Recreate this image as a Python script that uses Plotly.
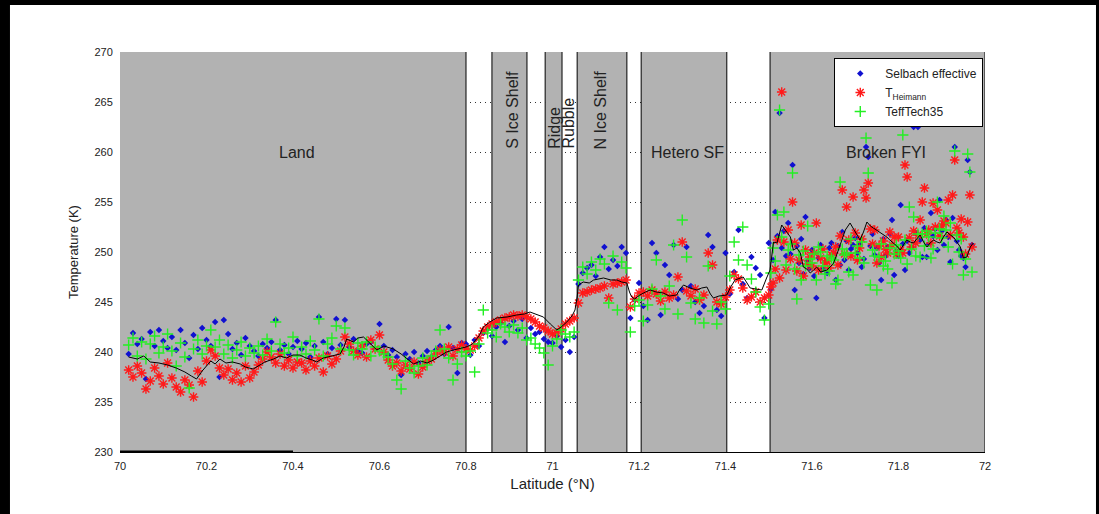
import plotly.graph_objects as go

# ---------------- data ----------------
LAT = [
    # land 70.02-70.79
    70.02, 70.03, 70.04, 70.05, 70.06, 70.07, 70.08, 70.09, 70.10, 70.11,
    70.12, 70.13, 70.14, 70.15, 70.16, 70.17, 70.18, 70.19, 70.20, 70.21,
    70.22, 70.23, 70.24, 70.25, 70.26, 70.27, 70.28, 70.29, 70.30, 70.31,
    70.32, 70.33, 70.34, 70.35, 70.36, 70.37, 70.38, 70.39, 70.40, 70.41,
    70.42, 70.43, 70.44, 70.45, 70.46, 70.47, 70.48, 70.49, 70.50, 70.51,
    70.52, 70.53, 70.54, 70.55, 70.56, 70.57, 70.58, 70.59, 70.60, 70.61,
    70.62, 70.63, 70.64, 70.65, 70.66, 70.67, 70.68, 70.69, 70.70, 70.71,
    70.72, 70.73, 70.74, 70.75, 70.76, 70.77, 70.78, 70.79,
    # ice shelf zone 70.80-71.05
    70.80, 70.81, 70.82, 70.83, 70.84, 70.85, 70.86, 70.87, 70.88, 70.89,
    70.90, 70.91, 70.92, 70.93, 70.94, 70.95, 70.96, 70.97, 70.98, 70.99,
    71.00, 71.01, 71.02, 71.03, 71.04, 71.05,
    # 71.06-71.49
    71.06, 71.07, 71.08, 71.09, 71.10, 71.11, 71.12, 71.13, 71.14, 71.15,
    71.16, 71.17, 71.18, 71.19, 71.20, 71.21, 71.22, 71.23, 71.24, 71.25,
    71.26, 71.27, 71.28, 71.29, 71.30, 71.31, 71.32, 71.33, 71.34, 71.35,
    71.36, 71.37, 71.38, 71.39, 71.40, 71.41, 71.42, 71.43, 71.44, 71.45,
    71.46, 71.47, 71.48, 71.49,
    # broken FYI 71.500-71.970
    71.500, 71.505, 71.510, 71.515, 71.520, 71.525, 71.530, 71.535, 71.540, 71.545,
    71.550, 71.555, 71.560, 71.565, 71.570, 71.575, 71.580, 71.585, 71.590, 71.595,
    71.600, 71.605, 71.610, 71.615, 71.620, 71.625, 71.630, 71.635, 71.640, 71.645,
    71.650, 71.655, 71.660, 71.665, 71.670, 71.675, 71.680, 71.685, 71.690, 71.695,
    71.700, 71.705, 71.710, 71.715, 71.720, 71.725, 71.730, 71.735, 71.740, 71.745,
    71.750, 71.755, 71.760, 71.765, 71.770, 71.775, 71.780, 71.785, 71.790, 71.795,
    71.800, 71.805, 71.810, 71.815, 71.820, 71.825, 71.830, 71.835, 71.840, 71.845,
    71.850, 71.855, 71.860, 71.865, 71.870, 71.875, 71.880, 71.885, 71.890, 71.895,
    71.900, 71.905, 71.910, 71.915, 71.920, 71.925, 71.930, 71.935, 71.940, 71.945,
    71.950, 71.955, 71.960, 71.965, 71.970,
]

SELBACH = [
    239.8, 241.9, 240.8, 241.3, 237.3, 242.0, 240.6, 242.2, 241.1, 240.4,
    241.5, 240.2, 242.2, 240.9, 239.4, 241.7, 240.3, 242.4, 241.2, 240.6,
    243.0, 237.5, 243.2, 241.8, 240.3, 240.9, 239.7, 241.4, 240.6, 240.1,
    239.6, 240.8, 240.4, 241.0, 243.2, 240.2, 240.7, 239.8, 240.5, 241.1,
    240.3, 240.9, 239.5, 240.6, 243.5, 241.0, 239.8, 240.4, 243.3, 240.7,
    243.2, 240.5, 241.3, 240.1, 239.9, 240.8, 241.0, 240.3, 242.8, 240.6,
    239.7, 240.2, 239.5, 237.7, 239.8, 239.3, 240.0, 238.9, 239.6, 240.1,
    239.5, 240.2, 240.6, 239.8, 242.5, 240.4, 237.9, 240.9,
    240.8, 239.7, 241.2, 240.6, 241.9, 242.3, 241.6, 242.5, 242.9, 241.0,
    242.6, 243.1, 242.2, 243.3, 241.4, 242.4, 241.8, 242.0, 241.3, 241.0,
    240.9, 241.6, 240.5, 241.2, 240.0, 241.5,
    246.8, 247.9, 248.4, 248.7, 247.6, 249.5, 250.5, 248.3, 249.2, 248.6,
    250.5, 249.9, 243.4, 245.2, 246.9, 244.6, 243.2, 250.9, 249.9, 243.7,
    248.7, 247.7, 250.7, 245.3, 246.2, 250.5, 246.6, 245.0, 243.9, 244.6,
    251.7, 250.5, 244.2, 243.6, 249.9, 245.8, 248.0, 252.2, 246.8, 245.4,
    249.5, 248.4, 247.7, 243.4,
    250.9, 246.3, 249.2, 254.0, 251.6, 263.9, 250.4, 252.1, 249.6, 252.9,
    249.8, 258.7, 246.2, 250.6, 248.9, 251.3, 247.8, 253.5, 249.1, 248.4,
    250.2, 247.6, 245.4, 249.4, 250.7, 248.3, 249.0, 247.9, 250.4, 250.9,
    249.9, 247.2, 250.6, 248.7, 252.0, 249.2, 251.1, 248.2, 250.3, 250.7,
    251.4, 249.9, 250.8, 248.5, 249.3, 260.5, 259.5, 250.6, 251.8, 249.7,
    250.4, 248.9, 247.2, 251.3, 249.6, 250.5, 251.8, 253.2, 247.7, 250.1,
    249.6, 254.7, 250.8, 248.2, 251.1, 249.9, 250.5, 262.5, 251.9, 262.5,
    251.2, 249.5, 252.4, 249.5, 250.8, 253.9, 251.6, 252.3, 250.2, 255.2,
    252.1, 250.7, 253.2, 251.5, 249.0, 253.4, 260.5, 251.1, 250.2, 249.6,
    249.4, 248.5, 259.2, 258.0, 250.7,
]

HEIMANN = [
    238.2, 237.5, 238.6, 237.9, 236.3, 237.1, 238.4, 237.6, 236.8, 238.9,
    237.4, 236.5, 236.0, 237.2, 236.7, 235.5, 238.1, 237.0, 239.1, 240.2,
    239.6, 238.4, 237.7, 238.3, 237.2, 237.9, 237.0, 238.6, 237.4, 238.0,
    238.7, 239.3, 240.0, 239.5, 238.9, 239.8, 238.6, 239.2, 238.4, 239.0,
    238.9, 238.2, 239.1, 238.6, 239.4, 238.0, 239.6, 238.8, 239.3, 240.1,
    241.5, 240.8, 240.1, 239.7, 240.6, 239.5, 241.2, 240.3, 241.7, 240.0,
    239.2, 238.6, 238.9, 238.1, 238.7, 238.3, 239.0, 237.8, 238.5, 239.1,
    239.3, 239.8, 240.2, 240.0, 240.5, 239.6, 240.3, 240.7,
    240.3, 240.2, 240.6, 241.4, 242.1, 242.5, 242.8, 243.0, 243.2, 243.4,
    243.5, 243.7, 243.6, 243.7, 243.5, 243.3, 243.0, 242.6, 242.4, 242.1,
    241.8, 241.9, 242.3, 242.8, 243.1, 243.4,
    244.9, 245.9, 246.0, 246.2, 246.3, 246.4, 246.6, 245.4, 246.8, 246.9,
    247.0, 247.2, 244.5, 245.3, 245.9, 246.0, 245.6, 246.2, 245.8, 245.1,
    246.0, 245.4, 245.7, 247.5, 251.0, 246.1, 245.6, 246.3, 245.2, 245.7,
    249.9, 248.7, 245.0, 244.8, 245.5, 246.2, 247.7, 247.3, 246.4, 245.2,
    245.5, 246.0, 245.0, 245.4,
    245.7, 246.5, 246.9, 248.3, 251.2, 247.4, 266.0, 251.0, 248.2, 252.2,
    249.3, 255.0, 250.9, 248.1, 249.2, 252.7, 247.6, 250.2, 248.8, 249.5,
    248.6, 249.9, 252.9, 248.2, 249.4, 250.3, 248.9, 249.1, 248.4, 249.7,
    249.9, 250.5, 248.7, 251.6, 256.2, 249.8, 254.5, 251.2, 249.6, 255.5,
    251.9, 249.2, 250.4, 251.3, 256.2, 255.4, 256.9, 252.3, 250.8, 252.2,
    248.9, 250.6, 249.5, 251.1, 250.3, 249.9, 252.0, 250.7, 251.5, 249.8,
    251.5, 250.2, 249.9, 258.7, 257.5, 251.4, 250.5, 252.1, 250.9, 251.7,
    253.2, 255.0, 256.4, 251.8, 252.2, 250.9, 254.9, 252.5, 254.2, 251.6,
    252.6, 253.1, 252.9, 255.2, 251.7, 255.7, 259.2, 252.4, 251.9, 253.3,
    251.5, 249.8, 253.0, 255.7, 250.5,
]

TECH35 = [
    240.7, 241.4, 239.6, 241.0, 239.3, 240.8, 241.6, 239.9, 240.5, 241.8,
    240.1, 238.6, 240.9, 239.5, 236.4, 240.3, 241.2, 239.8, 240.6, 242.2,
    240.5, 241.2, 239.8, 240.7, 239.4, 240.2, 241.0, 239.6, 240.4, 239.9,
    240.6, 239.7, 241.3, 240.1, 243.0, 240.8, 239.9, 240.4, 241.5, 239.6,
    240.5, 239.8, 241.1, 240.2, 243.3, 239.6, 240.8, 241.4, 242.6, 240.3,
    242.4, 240.2, 239.7, 240.9, 240.3, 241.0, 239.6, 240.5, 240.1, 239.8,
    239.5, 238.8, 237.2, 236.3, 239.1, 238.4, 237.9, 238.6, 239.4, 238.7,
    239.6, 240.1, 242.2, 240.3, 239.4, 237.2, 238.8, 240.0,
    239.6, 240.1, 238.0, 240.8, 244.2, 241.9, 242.2, 241.5, 242.8, 242.5,
    242.0, 242.7, 241.9, 242.4, 241.2, 241.4, 240.8, 240.4, 239.9, 238.7,
    240.6, 241.3, 242.2, 241.8, 241.5, 242.0,
    247.2, 248.5, 247.8, 249.0, 248.2, 249.3, 248.8, 244.9, 249.6, 244.2,
    249.0, 248.4, 242.0, 244.6, 245.2, 243.1, 244.7, 246.3, 249.2, 245.6,
    244.3, 246.6, 250.7, 243.8, 253.2, 249.5, 244.9, 243.3, 245.4, 242.9,
    248.6, 244.1, 242.8, 245.0, 244.3, 247.6, 251.0, 249.2, 252.5, 248.7,
    247.3, 246.0, 244.5, 243.2,
    244.8, 247.9, 250.4, 249.1, 253.7, 264.2, 251.5, 254.0, 248.7, 250.2,
    250.8, 257.9, 248.3, 245.3, 249.7, 247.2, 250.1, 248.6, 252.6, 249.3,
    248.9, 249.8, 247.2, 250.5, 250.0, 248.6, 247.8, 249.6, 248.1, 249.4,
    249.2, 246.8, 247.2, 257.0, 250.3, 249.7, 249.9, 248.0, 251.3, 247.7,
    249.9, 250.6, 249.4, 251.0, 248.9, 261.4, 257.9, 246.7, 250.2, 249.6,
    246.2, 249.5, 250.8, 248.6, 249.1, 248.3, 250.4, 246.9, 249.8, 250.7,
    250.1, 249.4, 261.7, 251.2, 248.8, 254.5, 250.3, 253.5, 249.6, 251.8,
    249.5, 251.8, 250.6, 252.1, 251.5, 249.4, 250.3, 251.9, 255.0, 252.3,
    251.4, 253.6, 252.2, 250.5, 252.9, 248.8, 260.1, 251.7, 250.0, 251.3,
    247.7, 249.3, 259.8, 258.0, 248.0,
]

# running mean (black line)
MEAN_LAT = [
    70.02, 70.04, 70.055, 70.07, 70.09, 70.11, 70.13, 70.15, 70.165, 70.177,
    70.19, 70.2, 70.21, 70.22, 70.231, 70.245, 70.26, 70.278, 70.29, 70.308,
    70.32, 70.335, 70.355, 70.37, 70.385, 70.4, 70.416, 70.43, 70.445, 70.455,
    70.47, 70.49, 70.509, 70.518, 70.524, 70.54, 70.55, 70.563, 70.575, 70.594,
    70.61, 70.632, 70.65, 70.665, 70.679, 70.695, 70.71, 70.725, 70.74, 70.755,
    70.771, 70.79,
    70.80, 70.815, 70.83, 70.84, 70.855, 70.871, 70.895, 70.917, 70.935, 70.948,
    70.965, 70.979, 70.995, 71.01, 71.02, 71.033, 71.045, 71.052, 71.057, 71.06,
    71.071, 71.085, 71.095, 71.108, 71.118, 71.135, 71.149, 71.16, 71.172, 71.178,
    71.183, 71.19, 71.202, 71.215, 71.226, 71.24, 71.256, 71.27, 71.287, 71.295,
    71.303, 71.318, 71.334, 71.345, 71.357, 71.365, 71.372, 71.385, 71.403, 71.412,
    71.422, 71.441, 71.45, 71.457, 71.47, 71.484, 71.495, 71.503,
    71.511, 71.519, 71.53, 71.542, 71.55, 71.557, 71.565, 71.573, 71.58, 71.588,
    71.596, 71.604, 71.611, 71.62, 71.634, 71.642, 71.65, 71.661, 71.669, 71.677,
    71.688, 71.695, 71.70, 71.711, 71.719, 71.727, 71.735, 71.742, 71.75, 71.758,
    71.765, 71.773, 71.78, 71.788, 71.796, 71.804, 71.812, 71.819, 71.827, 71.835,
    71.842, 71.85, 71.858, 71.866, 71.873, 71.881, 71.889, 71.896, 71.904, 71.912,
    71.92, 71.927, 71.935, 71.943, 71.95, 71.958, 71.966, 71.973,
]
MEAN_T = [
    239.5, 239.3, 239.6, 239.0, 238.9, 238.7, 238.4, 238.0, 237.6, 237.3,
    238.1, 238.6, 239.1, 238.8, 239.3, 238.9, 239.0, 238.8, 238.5, 238.3,
    238.6, 239.0, 239.3, 239.6, 239.4, 239.7, 239.7, 239.4, 239.2, 239.0,
    239.4, 239.6, 239.8, 240.5, 241.3, 241.0, 241.4, 241.5, 241.0, 240.2,
    240.6, 240.3, 239.8, 239.3, 238.8, 239.1, 238.9, 239.2, 239.6, 240.0,
    240.2, 240.4,
    240.5, 240.8, 241.6, 242.5, 243.0, 243.4, 243.5, 243.7, 243.8, 244.0,
    243.7, 243.5, 242.8, 242.2, 242.5, 243.0, 243.6, 244.2, 245.5, 246.7,
    247.0, 246.9, 247.2, 247.3, 247.4, 247.2, 247.2, 247.0, 246.9, 246.0,
    245.5, 245.3, 245.7, 246.0, 246.2, 246.0, 245.9, 245.6, 245.7, 246.3,
    246.7, 246.4, 246.2, 246.4, 246.5, 245.8, 245.4, 245.6, 245.7, 246.5,
    247.2, 247.5, 246.9, 246.4, 246.3, 246.2, 247.4, 248.2,
    251.0, 250.9, 252.7, 251.9, 251.5, 250.2, 250.4, 249.9, 248.5, 248.3,
    247.9, 248.2, 248.5, 248.0, 248.2, 248.5, 248.9, 250.2, 251.2, 252.2,
    252.9, 252.4, 251.9, 251.2, 252.0, 253.0, 252.6, 252.4, 252.1, 251.9,
    251.7, 251.5, 251.2, 250.9, 250.6, 250.2, 250.7, 251.2, 251.0, 250.9,
    251.3, 251.7, 251.0, 250.5, 250.9, 251.2, 251.0, 250.9, 251.5, 252.0,
    251.7, 251.5, 251.0, 250.5, 249.4, 249.5, 250.5, 250.9,
]

# thick base segment along the bottom axis
BASE_LAT = [70.0, 70.4]
BASE_T = [230.0, 230.0]

# surface-type zones (grey) and their labels
GREY_ZONES = [(70.0, 70.800), (70.860, 70.941), (70.983, 71.022),
              (71.057, 71.172), (71.205, 71.403), (71.503, 72.0)]
ZONE_EDGES = [70.800, 70.860, 70.941, 70.983, 71.022, 71.057,
              71.172, 71.205, 71.403, 71.503, 72.0]
FLAT_LABELS = [("Land", 70.409), ("Hetero SF", 71.313), ("Broken FYI", 71.771)]
VERT_LABELS = [("S Ice Shelf", 70.906), ("Ridge", 71.003),
               ("Rubble", 71.036), ("N Ice Shelf", 71.112)]

X_TICKS = [70, 70.2, 70.4, 70.6, 70.8, 71, 71.2, 71.4, 71.6, 71.8, 72]
Y_TICKS = [230, 235, 240, 245, 250, 255, 260, 265, 270]

FONT = "Liberation Sans, Arial, Helvetica, sans-serif"
GREY = "#b2b2b2"
TXT = "#222222"

fig = go.Figure()

fig.add_trace(go.Scatter(
    x=LAT, y=SELBACH, mode="markers", name="Selbach effective",
    marker=dict(symbol="diamond", size=5, color="#1010d0"),
))
fig.add_trace(go.Scatter(
    x=LAT, y=HEIMANN, mode="markers", name="T<sub>Heimann</sub>",
    marker=dict(symbol="asterisk-open", size=8, color="#ff1a1a",
                line=dict(color="#ff1a1a", width=1.4)),
))
fig.add_trace(go.Scatter(
    x=LAT, y=TECH35, mode="markers", name="TeffTech35",
    marker=dict(symbol="cross-thin-open", size=8, color="#22f022",
                line=dict(color="#22f022", width=1.4)),
))
fig.add_trace(go.Scatter(
    x=MEAN_LAT, y=MEAN_T, mode="lines", showlegend=False,
    line=dict(color="black", width=1),
))
fig.add_trace(go.Scatter(
    x=BASE_LAT, y=BASE_T, mode="lines", showlegend=False,
    line=dict(color="black", width=3), cliponaxis=False,
))

shapes = []
for x0, x1 in GREY_ZONES:
    shapes.append(dict(type="rect", xref="x", yref="y", x0=x0, x1=x1,
                       y0=230, y1=270, fillcolor=GREY, line=dict(width=0),
                       layer="between"))
for xe in ZONE_EDGES:
    shapes.append(dict(type="line", xref="x", yref="y", x0=xe, x1=xe,
                       y0=230, y1=270, line=dict(color="black", width=1),
                       layer="between"))
# outer black frame of the figure image
shapes += [
    dict(type="rect", xref="paper", yref="paper", x0=-0.16, x1=-0.1272,
         y0=-0.2, y1=1.2, fillcolor="black", line=dict(width=0), layer="above"),
    dict(type="rect", xref="paper", yref="paper", x0=-0.16, x1=1.16,
         y0=1.1175, y1=1.2, fillcolor="black", line=dict(width=0), layer="above"),
    dict(type="rect", xref="paper", yref="paper", x0=1.1283, x1=1.16,
         y0=-0.2, y1=1.2, fillcolor="black", line=dict(width=0), layer="above"),
]

annotations = []
for txt, xl in FLAT_LABELS:
    annotations.append(dict(x=xl, y=260, xref="x", yref="y", text=txt,
                            showarrow=False, font=dict(size=16, color=TXT, family=FONT),
                            xanchor="center", yanchor="middle"))
for txt, xl in VERT_LABELS:
    annotations.append(dict(x=xl, y=260.1, xref="x", yref="y", text=txt,
                            showarrow=False, textangle=-90,
                            font=dict(size=16, color=TXT, family=FONT),
                            xanchor="center", yanchor="bottom"))

fig.update_layout(
    width=1099, height=514,
    margin=dict(l=120, r=114, t=52, b=62),
    paper_bgcolor="white", plot_bgcolor="white",
    font=dict(family=FONT, color=TXT),
    shapes=shapes, annotations=annotations,
    showlegend=True,
    legend=dict(x=0.998, xanchor="right", y=0.985, yanchor="top",
                bgcolor="white", bordercolor="black", borderwidth=1,
                font=dict(size=12, color=TXT, family=FONT),
                itemwidth=40, tracegroupgap=0),
    xaxis=dict(range=[70, 72], tickvals=X_TICKS, showgrid=False,
               zeroline=False, showline=True, linecolor="black", linewidth=1,
               ticks="outside", ticklen=4, tickcolor="rgba(0,0,0,0)",
               tickfont=dict(size=11, color=TXT),
               title=dict(text="Latitude (°N)", font=dict(size=15, color=TXT),
                          standoff=7)),
    yaxis=dict(range=[230, 270], tickvals=Y_TICKS, showgrid=True,
               gridcolor="#333333", gridwidth=1, griddash="1px,4px",
               zeroline=False, showline=False,
               ticks="outside", ticklen=4, tickcolor="rgba(0,0,0,0)",
               tickfont=dict(size=11, color=TXT),
               title=dict(text="Temperature (K)", font=dict(size=13, color=TXT),
                          standoff=12)),
)

fig.write_html("out.html")
